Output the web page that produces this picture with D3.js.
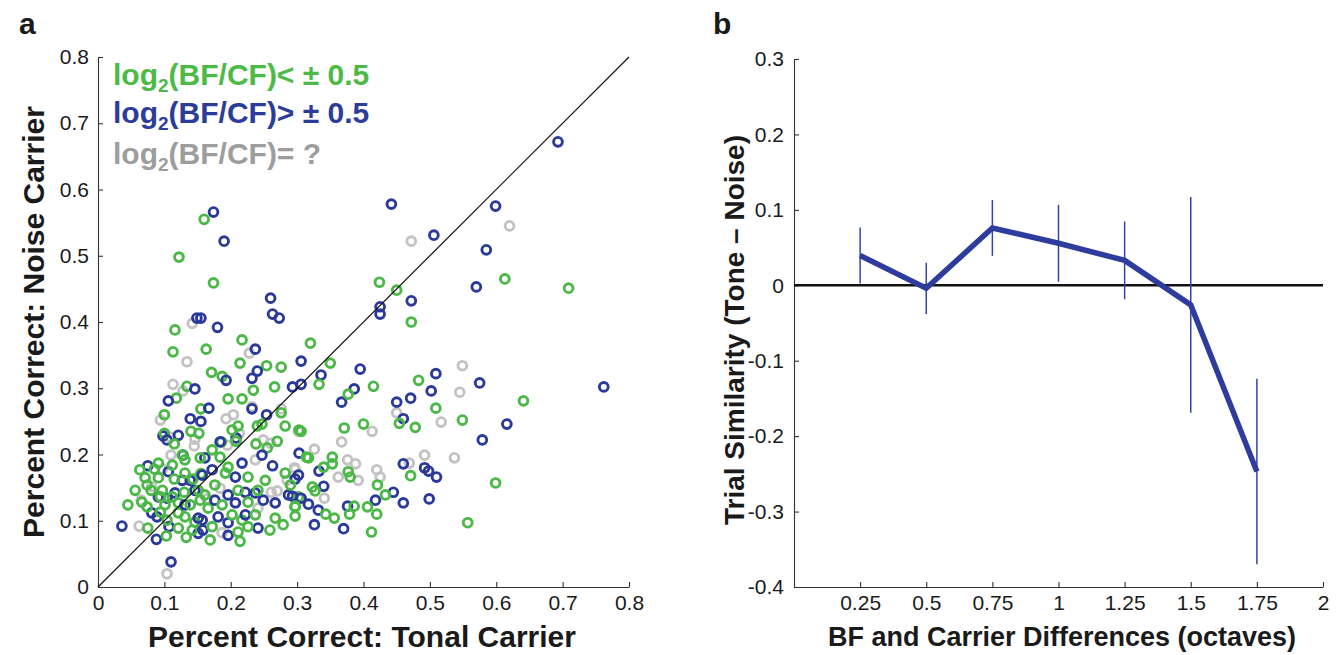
<!DOCTYPE html>
<html>
<head>
<meta charset="utf-8">
<script src="https://cdn.jsdelivr.net/npm/d3@7"></script>
<style>
  html, body { margin: 0; padding: 0; background: #fff; }
  svg { display: block; font-family: "Liberation Sans", Arial, Helvetica, sans-serif; }
</style>
</head>
<body>
<svg id="chart" width="1343" height="655"></svg>
<script>
// ---------- Panel a data: [tonal carrier, noise carrier] ----------
const nearPts = [ // log2(BF/CF) < ±0.5 (green)
[0.160,0.555],[0.122,0.498],[0.174,0.459],[0.116,0.388],[0.217,0.373],[0.113,0.355],[0.163,0.359],[0.214,0.338],
[0.254,0.334],[0.276,0.332],[0.171,0.324],[0.187,0.318],[0.134,0.303],[0.234,0.297],[0.266,0.302],[0.320,0.368],
[0.118,0.285],[0.100,0.260],[0.155,0.269],[0.196,0.284],[0.217,0.284],[0.276,0.263],[0.211,0.243],[0.282,0.243],
[0.240,0.243],[0.303,0.237],[0.247,0.246],[0.100,0.232],[0.140,0.235],[0.152,0.232],[0.186,0.219],[0.208,0.220],
[0.238,0.216],[0.255,0.210],[0.270,0.220],[0.314,0.196],[0.115,0.216],[0.091,0.187],[0.085,0.178],[0.127,0.199],
[0.112,0.184],[0.115,0.163],[0.143,0.163],[0.155,0.171],[0.131,0.172],[0.074,0.154],[0.080,0.146],[0.097,0.146],
[0.066,0.128],[0.074,0.121],[0.121,0.127],[0.130,0.143],[0.154,0.131],[0.094,0.113],[0.104,0.101],[0.121,0.112],
[0.131,0.106],[0.075,0.089],[0.121,0.089],[0.142,0.086],[0.146,0.098],[0.133,0.075],[0.103,0.077],[0.202,0.237],
[0.154,0.195],[0.184,0.196],[0.196,0.181],[0.282,0.172],[0.192,0.172],[0.226,0.166],[0.151,0.146],[0.302,0.136],
[0.166,0.119],[0.226,0.128],[0.297,0.121],[0.202,0.109],[0.217,0.101],[0.267,0.104],[0.226,0.091],[0.172,0.091],
[0.211,0.083],[0.214,0.069],[0.350,0.338],[0.333,0.306],[0.415,0.303],[0.377,0.291],[0.454,0.247],[0.306,0.235],
[0.371,0.240],[0.400,0.246],[0.317,0.195],[0.353,0.196],[0.353,0.186],[0.340,0.181],[0.377,0.174],[0.380,0.166],
[0.323,0.151],[0.327,0.145],[0.421,0.154],[0.433,0.139],[0.297,0.122],[0.386,0.122],[0.406,0.121],[0.420,0.110],
[0.343,0.110],[0.356,0.104],[0.379,0.110],[0.297,0.107],[0.412,0.083],[0.424,0.460],[0.450,0.448],[0.472,0.400],
[0.483,0.312],[0.509,0.270],[0.478,0.241],[0.549,0.252],[0.471,0.168],[0.599,0.157],[0.557,0.097],[0.613,0.465],
[0.709,0.451],[0.641,0.281],
[0.063,0.177],[0.071,0.165],[0.056,0.146],[0.091,0.165],[0.101,0.124],[0.112,0.136],[0.139,0.124],[0.161,0.139],
[0.176,0.154],[0.187,0.124],[0.211,0.146],[0.241,0.146],[0.252,0.161],[0.237,0.109],[0.259,0.086],[0.279,0.094],
[0.290,0.154],[0.169,0.071],[0.094,0.136],[0.045,0.124],[0.131,0.192],[0.172,0.207]
];
const farPts = [ // log2(BF/CF) > ±0.5 (blue)
[0.174,0.566],[0.190,0.522],[0.260,0.436],[0.263,0.412],[0.273,0.406],[0.149,0.406],[0.155,0.406],[0.180,0.392],
[0.237,0.359],[0.306,0.341],[0.240,0.326],[0.193,0.312],[0.232,0.315],[0.146,0.299],[0.293,0.302],[0.306,0.306],
[0.106,0.281],[0.139,0.254],[0.155,0.250],[0.232,0.269],[0.167,0.270],[0.254,0.260],[0.098,0.228],[0.121,0.229],
[0.208,0.225],[0.303,0.202],[0.128,0.199],[0.088,0.072],[0.110,0.038],[0.036,0.092],[0.104,0.222],[0.075,0.183],
[0.106,0.174],[0.127,0.161],[0.139,0.161],[0.091,0.136],[0.104,0.134],[0.116,0.142],[0.146,0.146],[0.081,0.112],
[0.089,0.106],[0.107,0.091],[0.151,0.081],[0.157,0.101],[0.184,0.219],[0.161,0.195],[0.217,0.187],[0.247,0.199],
[0.263,0.183],[0.302,0.169],[0.172,0.177],[0.207,0.166],[0.157,0.169],[0.196,0.139],[0.222,0.143],[0.237,0.142],
[0.287,0.139],[0.207,0.127],[0.249,0.131],[0.267,0.127],[0.151,0.104],[0.181,0.106],[0.196,0.097],[0.241,0.089],
[0.158,0.086],[0.196,0.078],[0.395,0.329],[0.336,0.320],[0.386,0.299],[0.367,0.279],[0.450,0.279],[0.460,0.254],
[0.333,0.175],[0.460,0.186],[0.297,0.163],[0.340,0.152],[0.445,0.143],[0.293,0.137],[0.306,0.134],[0.317,0.125],
[0.332,0.116],[0.376,0.122],[0.418,0.131],[0.460,0.127],[0.326,0.094],[0.370,0.088],[0.570,0.453],[0.472,0.432],
[0.425,0.423],[0.425,0.412],[0.509,0.322],[0.575,0.308],[0.502,0.296],[0.471,0.285],[0.579,0.222],[0.492,0.180],
[0.498,0.175],[0.510,0.166],[0.499,0.133],[0.693,0.672],[0.599,0.575],[0.506,0.531],[0.585,0.509],[0.762,0.302],
[0.616,0.246],[0.442,0.578],
[0.131,0.124],[0.176,0.131],[0.222,0.109]
];
const unknownPts = [ // log2(BF/CF) = ? (gray)
[0.142,0.398],[0.228,0.353],[0.134,0.340],[0.113,0.306],[0.128,0.296],[0.094,0.252],[0.232,0.272],[0.276,0.269],
[0.193,0.254],[0.204,0.260],[0.109,0.226],[0.146,0.223],[0.145,0.213],[0.213,0.232],[0.249,0.222],[0.260,0.217],
[0.110,0.199],[0.104,0.020],[0.062,0.092],[0.097,0.178],[0.081,0.152],[0.065,0.131],[0.195,0.214],[0.302,0.235],
[0.237,0.192],[0.296,0.180],[0.285,0.161],[0.184,0.149],[0.164,0.133],[0.261,0.143],[0.270,0.145],[0.241,0.119],
[0.187,0.082],[0.450,0.263],[0.413,0.235],[0.367,0.219],[0.326,0.208],[0.376,0.192],[0.388,0.186],[0.297,0.178],
[0.420,0.177],[0.362,0.166],[0.392,0.161],[0.425,0.166],[0.341,0.134],[0.549,0.334],[0.545,0.294],[0.517,0.249],
[0.492,0.199],[0.537,0.195],[0.469,0.187],[0.620,0.545],[0.472,0.522]
];
const axisTicksA = [0, 0.1, 0.2, 0.3, 0.4, 0.5, 0.6, 0.7, 0.8];

// ---------- Panel b data ----------
const octaves = [0.25, 0.5, 0.75, 1, 1.25, 1.5, 1.75];
const similarity = [0.0395, -0.004, 0.076, 0.0557, 0.033, -0.026, -0.247];
const similarityErr = [0.037, 0.034, 0.037, 0.051, 0.0515, 0.143, 0.123];
const xTicksB = [0.25, 0.5, 0.75, 1, 1.25, 1.5, 1.75, 2];
const yTicksB = [-0.4, -0.3, -0.2, -0.1, 0, 0.1, 0.2, 0.3];

const COL_NEAR = "#4cb847", COL_FAR = "#2b3a9a", COL_UNK = "#c3c3c3";
const AXIS_COL = "#333";

const svg = d3.select("#chart");

function styleAxis(g) {
  g.selectAll("path.domain").attr("stroke", AXIS_COL).attr("stroke-width", 1.1);
  g.selectAll(".tick line").attr("stroke", AXIS_COL).attr("stroke-width", 1.1);
  g.selectAll(".tick text").attr("fill", "#1a1a1a").style("font-size", "21px")
    .style("font-family", "'Liberation Sans', Arial, sans-serif");
}

// ================= Panel a =================
const xa = d3.scaleLinear().domain([0, 0.8]).range([98, 629]);
const ya = d3.scaleLinear().domain([0, 0.8]).range([587, 57]);

const ga = svg.append("g");
ga.append("g").attr("transform", `translate(0,${ya(0)})`)
  .call(d3.axisBottom(xa).tickValues(axisTicksA).tickFormat(d => String(+d.toFixed(2)))
        .tickSizeInner(-5).tickSizeOuter(0).tickPadding(8))
  .call(styleAxis);
ga.append("g").attr("transform", `translate(${xa(0)},0)`)
  .call(d3.axisLeft(ya).tickValues(axisTicksA).tickFormat(d => String(+d.toFixed(2)))
        .tickSizeInner(-5).tickSizeOuter(0).tickPadding(9))
  .call(styleAxis);

// points: gray first, then interleave green & blue
const pts = unknownPts.map(p => ({p, c: COL_UNK}));
const nMax = Math.max(nearPts.length, farPts.length);
for (let i = 0; i < nMax; i++) {
  if (i < nearPts.length) pts.push({p: nearPts[i], c: COL_NEAR});
  if (i < farPts.length) pts.push({p: farPts[i], c: COL_FAR});
}
ga.append("g").selectAll("circle").data(pts).join("circle")
  .attr("cx", d => xa(d.p[0])).attr("cy", d => ya(d.p[1])).attr("r", 4.4)
  .attr("fill", "none").attr("stroke", d => d.c).attr("stroke-width", 2.9);

// identity line
ga.append("line")
  .attr("x1", xa(0)).attr("y1", ya(0)).attr("x2", xa(0.8)).attr("y2", ya(0.8))
  .attr("stroke", "#111").attr("stroke-width", 1.2);

// legend
const legend = [
  {t: "< ± 0.5", c: "#4cbb46", y: 85},
  {t: "> ± 0.5", c: "#2c3c9a", y: 123},
  {t: "= ?", c: "#9d9d9d", y: 164}
];
legend.forEach(l => {
  const tx = ga.append("text").attr("x", 113).attr("y", l.y).attr("fill", l.c)
    .style("font-size", "30px").style("font-weight", "bold");
  tx.append("tspan").text("log");
  tx.append("tspan").attr("dy", 7).style("font-size", "19px").text("2");
  tx.append("tspan").attr("dy", -7).text("(BF/CF)" + l.t);
});

// axis titles
ga.append("text").attr("x", 362).attr("y", 647).attr("text-anchor", "middle")
  .style("font-size", "30px").style("font-weight", "bold").attr("fill", "#1a1a1a")
  .text("Percent Correct: Tonal Carrier");
ga.append("text").attr("transform", "translate(44,322) rotate(-90)").attr("text-anchor", "middle")
  .style("font-size", "30px").style("font-weight", "bold").attr("fill", "#1a1a1a")
  .text("Percent Correct: Noise Carrier");
ga.append("text").attr("x", 19).attr("y", 34).style("font-size", "30px").style("font-weight", "bold")
  .attr("fill", "#1a1a1a").text("a");

// ================= Panel b =================
const xb = d3.scaleLinear().domain([0, 2]).range([794, 1323]);
const yb = d3.scaleLinear().domain([-0.4, 0.3]).range([587, 59]);

const gb = svg.append("g");
gb.append("g").attr("transform", `translate(0,${yb(-0.4)})`)
  .call(d3.axisBottom(xb).tickValues(xTicksB).tickFormat(d => String(d))
        .tickSizeInner(-5).tickSizeOuter(0).tickPadding(8))
  .call(styleAxis);
gb.append("g").attr("transform", `translate(${xb(0)},0)`)
  .call(d3.axisLeft(yb).tickValues(yTicksB).tickFormat(d => String(+d.toFixed(2)))
        .tickSizeInner(-5).tickSizeOuter(0).tickPadding(10))
  .call(styleAxis);

// zero line
gb.append("line").attr("x1", xb(0)).attr("x2", xb(2)).attr("y1", yb(0)).attr("y2", yb(0))
  .attr("stroke", "#111").attr("stroke-width", 2.4);

const bData = octaves.map((o, i) => ({o, m: similarity[i], e: similarityErr[i]}));
gb.append("g").selectAll("line").data(bData).join("line")
  .attr("x1", d => xb(d.o)).attr("x2", d => xb(d.o))
  .attr("y1", d => yb(d.m - d.e)).attr("y2", d => yb(d.m + d.e))
  .attr("stroke", "#3344aa").attr("stroke-width", 1.5);
gb.append("path").datum(bData)
  .attr("d", d3.line().x(d => xb(d.o)).y(d => yb(d.m)))
  .attr("fill", "none").attr("stroke", "#2e3c9e").attr("stroke-width", 5.5)
  .attr("stroke-linejoin", "miter");

gb.append("text").attr("x", 1062).attr("y", 646).attr("text-anchor", "middle")
  .style("font-size", "27px").style("font-weight", "bold").attr("fill", "#1a1a1a")
  .text("BF and Carrier Differences (octaves)");
gb.append("text").attr("transform", "translate(744,330) rotate(-90)").attr("text-anchor", "middle")
  .style("font-size", "28px").style("font-weight", "bold").attr("fill", "#1a1a1a")
  .text("Trial Similarity (Tone – Noise)");
gb.append("text").attr("x", 713).attr("y", 34).style("font-size", "30px").style("font-weight", "bold")
  .attr("fill", "#1a1a1a").text("b");
</script>
</body>
</html>
